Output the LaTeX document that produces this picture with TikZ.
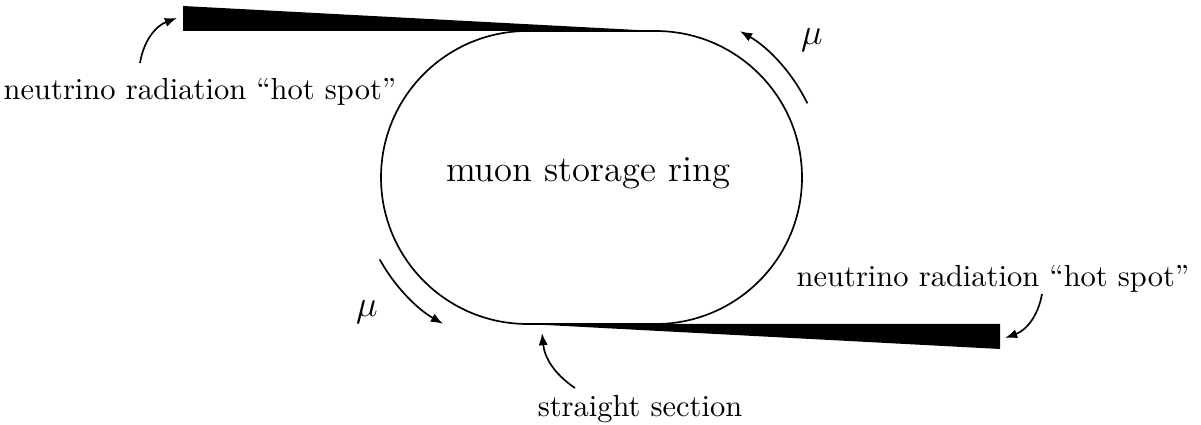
\documentclass[tikz,border=0pt]{standalone}
\usepackage{amsmath,amssymb}
\usepackage{tikz}
\usetikzlibrary{arrows.meta,positioning}

\begin{document}
\begin{tikzpicture}[x=0.328pt,y=0.328pt,line width=0.55pt,>={Latex[length=4pt,width=3pt]}]
        \useasboundingbox (0,0) rectangle (1201,425);

        % Ring centres
        \coordinate (cL) at (527.5,247.5);
        \coordinate (cR) at (655.5,247.5);

        % Storage ring
        \draw (527.5,394) -- (655.5,394) arc[start angle=90,end angle=-90,radius=146.5]
              -- (527.5,101) arc[start angle=270,end angle=90,radius=146.5] -- cycle;
        \node[anchor=base] (ringlbl) at (588,243) {\large muon storage ring};

        % Radiation fans
        \coordinate (fanA) at (656,394);
        \coordinate (fanB) at (527,101);
        \fill (fanA) -- (183,419) -- (183,394) -- cycle;
        \fill (fanB) -- (1000,101) -- (1000,76) -- cycle;

        % Muon direction
        \draw[->] (cR) ++(26:169) arc[start angle=26,end angle=60,radius=169];
        \draw[->] (cL) ++(209:169) arc[start angle=209,end angle=240,radius=169];
        \node (muR) at (812,385) {\large $\mu$};
        \node (muL) at (367,113) {\large $\mu$};

        % Labels
        \node[anchor=base] (hotA) at (200,325) {neutrino radiation ``hot spot''};
        \node[anchor=base] (hotB) at (993,138) {neutrino radiation ``hot spot''};
        \node[anchor=base] (sslbl) at (640,8) {straight section};

        % Pointers
        \coordinate (hotAfrom) at (140,362);
        \coordinate (hotAto) at (177,407);
        \coordinate (hotBfrom) at (1042,131);
        \coordinate (hotBto) at (1005,87);
        \coordinate (ssfrom) at (575,37);
        \coordinate (ssto) at (542,92);
        \draw[->] (hotAfrom) to[bend left=30] (hotAto);
        \draw[->] (hotBfrom) to[bend left=30] (hotBto);
        \draw[->] (ssfrom) to[bend left=25] (ssto);
    \end{tikzpicture}
\end{document}
